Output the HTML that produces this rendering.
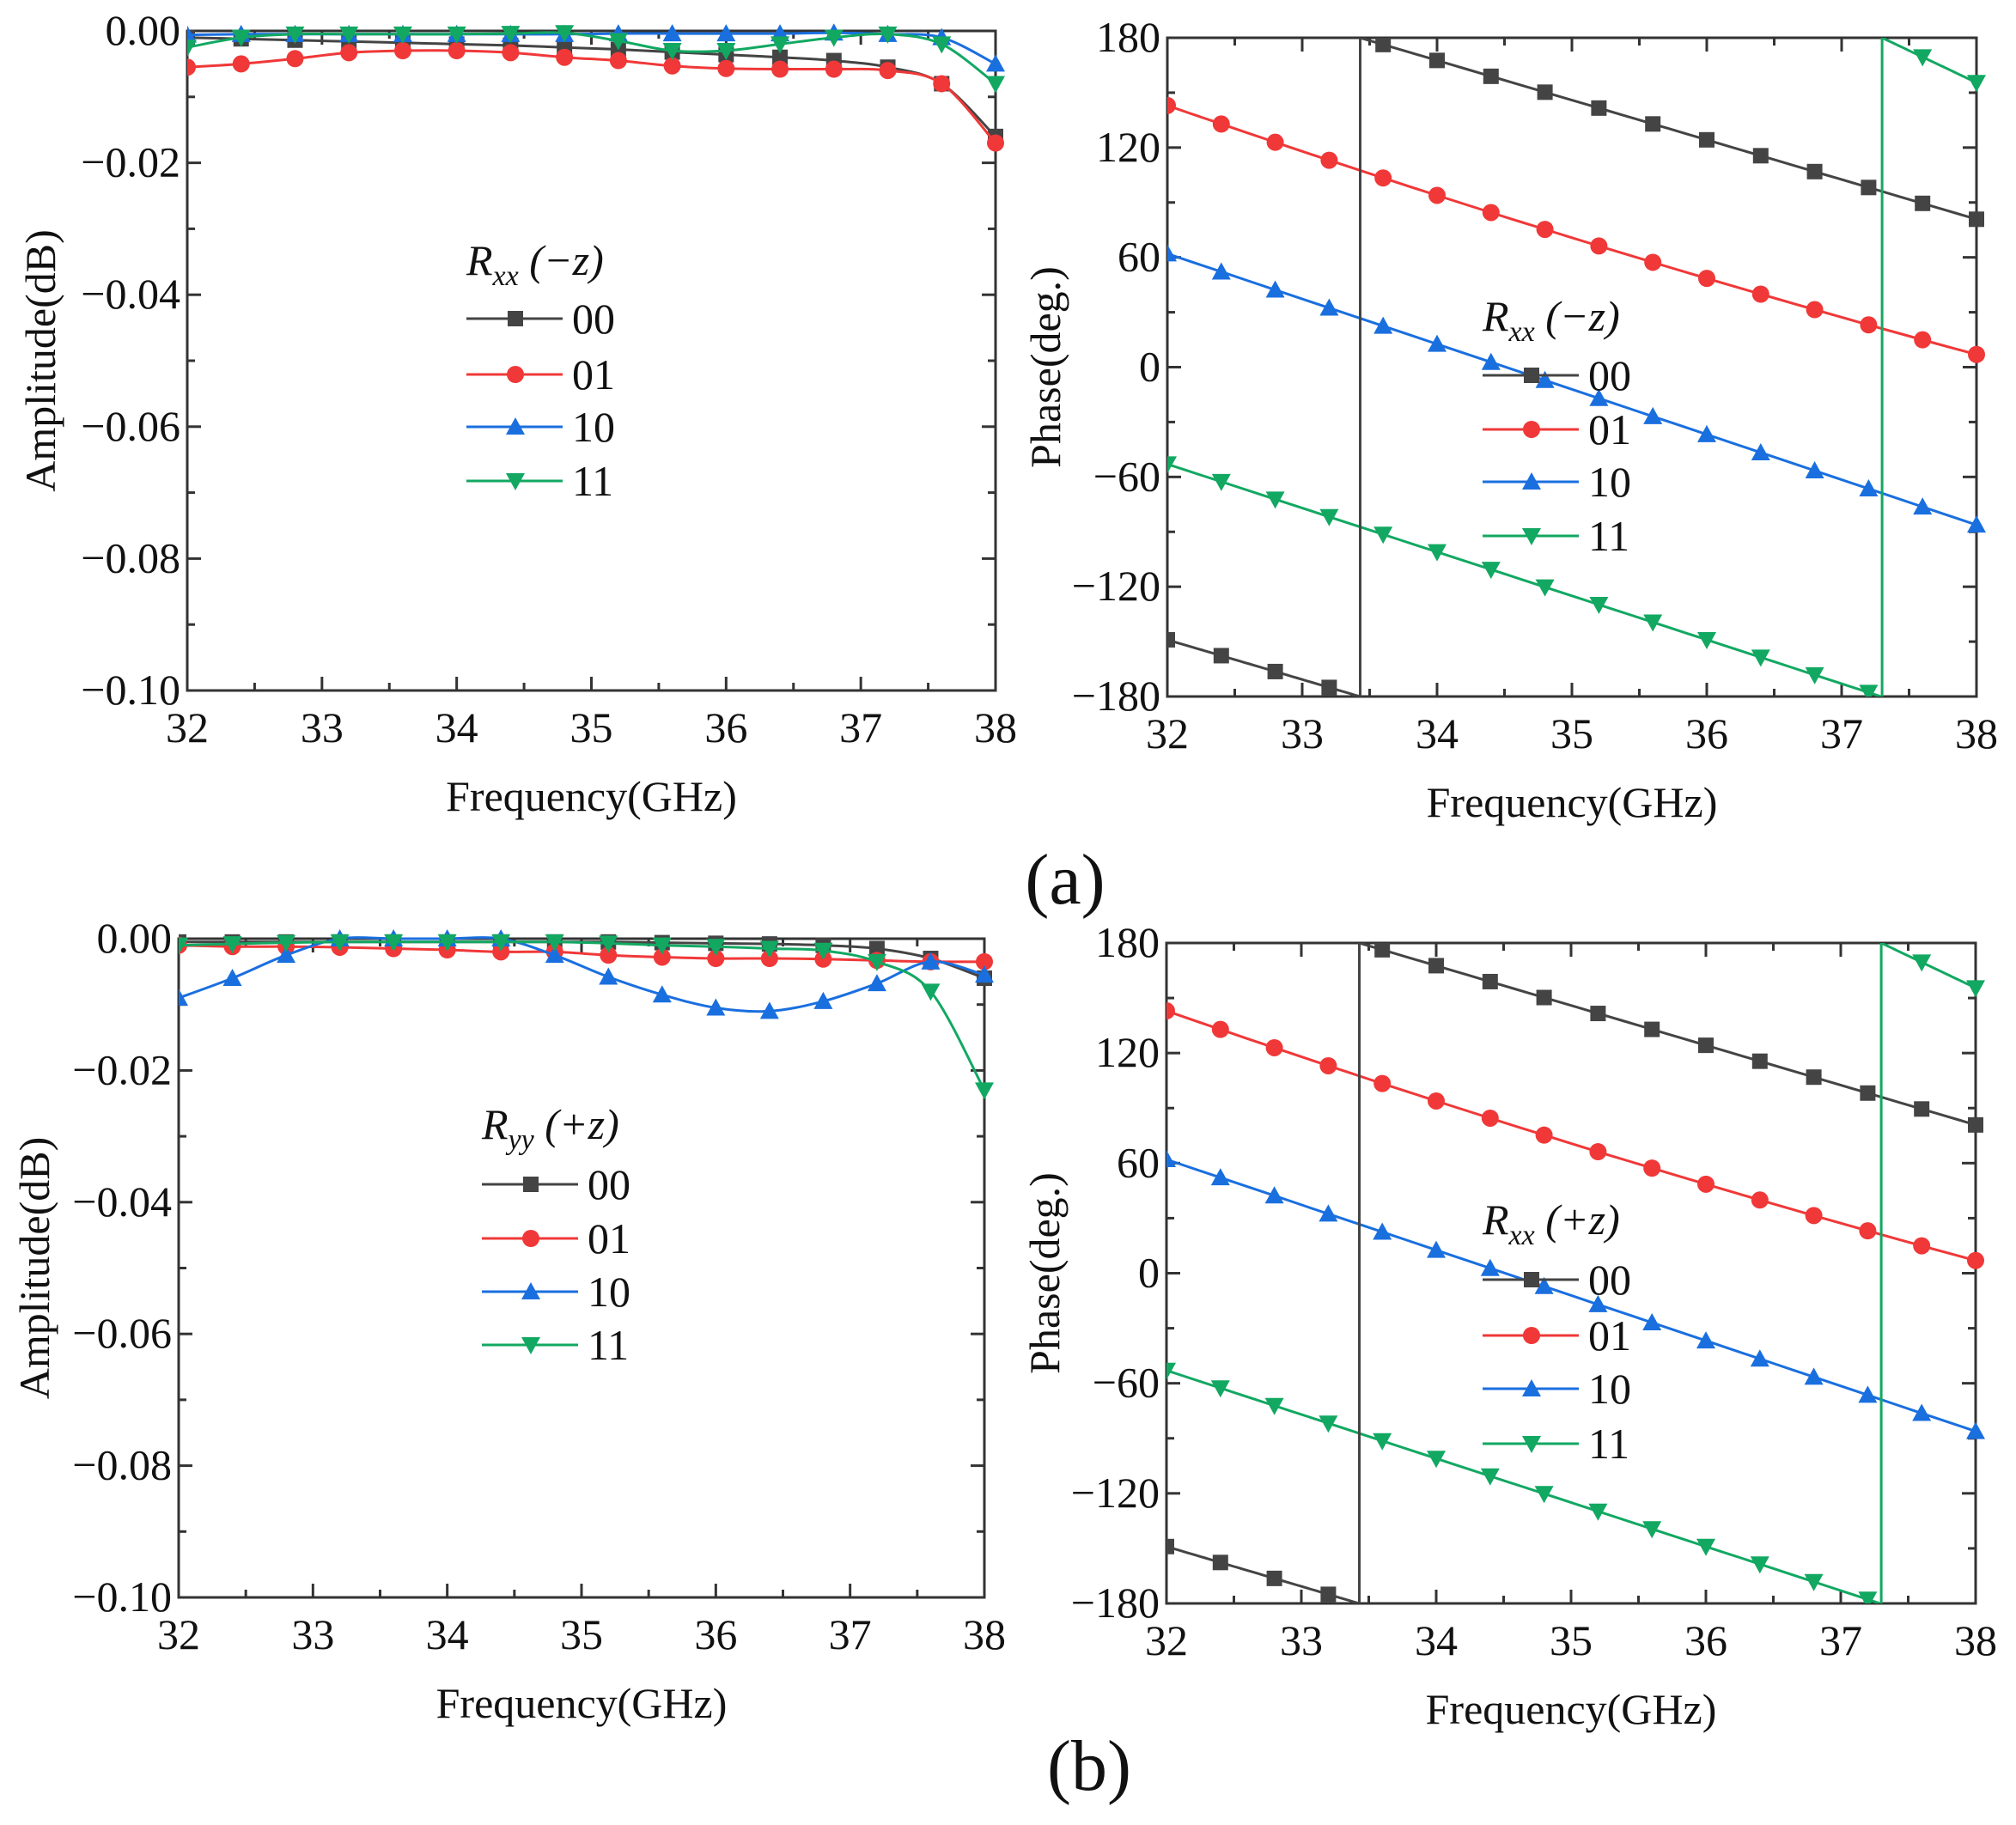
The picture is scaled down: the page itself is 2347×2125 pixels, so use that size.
<!DOCTYPE html>
<html><head><meta charset="utf-8"><style>
html,body{margin:0;padding:0;background:#fff}
text{font-family:'Liberation Serif','DejaVu Serif',serif}
</style></head><body>
<svg id="s" width="2347" height="2120" viewBox="0 0 2347 2120" xmlns="http://www.w3.org/2000/svg" font-family="Liberation Serif, serif" fill="#111"></svg>
<script>
const S=document.getElementById('s');let out='';
const FF=`font-family="Liberation Serif, serif"`;
const C={k:'#444444',r:'#f03838',b:'#1a6fdf',g:'#12a862'};
const X=[];for(let i=0;i<16;i++)X.push(32+0.4*i);
function cr(pts){
 let d='M'+pts[0][0].toFixed(1)+','+pts[0][1].toFixed(1);
 for(let i=0;i<pts.length-1;i++){const p0=pts[i-1]||pts[i],p1=pts[i],p2=pts[i+1],p3=pts[i+2]||p2;
  const c1=[p1[0]+(p2[0]-p0[0])/6,p1[1]+(p2[1]-p0[1])/6],c2=[p2[0]-(p3[0]-p1[0])/6,p2[1]-(p3[1]-p1[1])/6];
  d+=`C${c1[0].toFixed(1)},${c1[1].toFixed(1)} ${c2[0].toFixed(1)},${c2[1].toFixed(1)} ${p2[0].toFixed(1)},${p2[1].toFixed(1)}`;}
 return d;}
function marker(t,x,y,col){const s=9;
 if(t=='k')return `<rect x="${x-s}" y="${y-s}" width="${2*s}" height="${2*s}" fill="${col}"/>`;
 if(t=='r')return `<circle cx="${x}" cy="${y}" r="${s+1}" fill="${col}"/>`;
 if(t=='b')return `<polygon points="${x},${y-s-2} ${x+s+2},${y+s} ${x-s-2},${y+s}" fill="${col}"/>`;
 return `<polygon points="${x},${y+s+2} ${x+s+2},${y-s} ${x-s-2},${y-s}" fill="${col}"/>`;}
function T(x,y,s,anchor,txt,extra){return `<text ${FF} x="${x}" y="${y}" font-size="${s}" text-anchor="${anchor}" ${extra||''}>${txt}</text>`;}
function axes(P){const {x0,x1,y0,y1,ymin,ymax,ystep,ylab,fmt}=P;
 const fx=v=>x0+(v-32)/6*(x1-x0), fy=v=>y1-(v-ymin)/(ymax-ymin)*(y1-y0);
 let o=`<rect x="${x0}" y="${y0}" width="${x1-x0}" height="${y1-y0}" fill="none" stroke="#333" stroke-width="3"/>`;
 for(let v=32;v<=38.01;v+=0.5){const x=fx(v),L=(Math.abs(v-Math.round(v))<.01)?16:9;
  o+=`<line x1="${x}" y1="${y1}" x2="${x}" y2="${y1-L}" stroke="#333" stroke-width="3"/><line x1="${x}" y1="${y0}" x2="${x}" y2="${y0+L}" stroke="#333" stroke-width="3"/>`;
  if(L==16)o+=T(x,y1+60,50,'middle',Math.round(v));}
 const n=Math.round((ymax-ymin)/ystep);
 for(let i=0;i<=2*n;i++){const v=ymin+i*ystep/2,y=fy(v),L=i%2==0?16:9;
  o+=`<line x1="${x0}" y1="${y}" x2="${x0+L}" y2="${y}" stroke="#333" stroke-width="3"/><line x1="${x1}" y1="${y}" x2="${x1-L}" y2="${y}" stroke="#333" stroke-width="3"/>`;
  if(i%2==0)o+=T(x0-8,y+16,50,'end',fmt(v));}
 o+=T((x0+x1)/2,y1+140,50,'middle','Frequency(GHz)');
 o+=`<text ${FF} transform="translate(${P.ylx},${(y0+y1)/2}) rotate(-90)" font-size="50" text-anchor="middle">${ylab}</text>`;
 return {o,fx,fy};}
const famp=v=>Math.abs(v)<1e-9?'0.00':'\u2212'+Math.abs(v).toFixed(2);
const fph=v=>v<0?'\u2212'+Math.abs(Math.round(v)):''+Math.round(v);
function legend(x,yt,sub,dir,rows){let o=`<text ${FF} x="${x}" y="${yt+17}" font-size="50" font-style="italic">R<tspan font-size="34" dy="12">${sub}</tspan><tspan dy="-12"> (${dir}z)</tspan></text>`;
 const nm=['00','01','10','11'],ks=['k','r','b','g'];
 rows.forEach((y,i)=>{o+=`<line x1="${x}" y1="${y}" x2="${x+112}" y2="${y}" stroke="${C[ks[i]]}" stroke-width="3"/>`+marker(ks[i],x+57,y,C[ks[i]])+T(x+123,y+17,50,'start',nm[i]);});
 return o;}
function amp(P,data){const a=axes(P);let o=a.o;
 o+=`<clipPath id="c${P.id}"><rect x="${P.x0}" y="${P.y0-15}" width="${P.x1-P.x0+15}" height="${P.y1-P.y0+15}"/></clipPath><g clip-path="url(#c${P.id})">`;
 for(const k of ['k','r','b','g']){const pts=X.map((x,i)=>[a.fx(x),a.fy(data[k][i])]);
  o+=`<path d="${cr(pts)}" fill="none" stroke="${C[k]}" stroke-width="3"/>`;pts.forEach(p=>o+=marker(k,p[0],p[1],C[k]));}
 return o+'</g>';}
function phase(P){const a=axes(P);let o=a.o;
 o+=`<clipPath id="c${P.id}"><rect x="${P.x0}" y="${P.y0}" width="${P.x1-P.x0+15}" height="${P.y1-P.y0}"/></clipPath><g clip-path="url(#c${P.id})">`;
 const fk=x=>x<33.43?-149-21.7*(x-32):180-21.7*(x-33.43);
 const fr=x=>143-25.5*(x-32)+0.47*(x-32)*(x-32), fb=x=>62-24.7*(x-32), fg=x=>x<37.3?-53-24*(x-32):180-35*(x-37.3);
 const seg=(k,f,xs,xe)=>{let d='';for(let i=0;i<=40;i++){const x=xs+(xe-xs)*i/40;d+=(i?'L':'M')+a.fx(x).toFixed(1)+','+a.fy(f(x)).toFixed(1);}o+=`<path d="${d}" fill="none" stroke="${C[k]}" stroke-width="3"/>`;};
 seg('k',fk,32,33.429);seg('k',fk,33.43,38);seg('r',fr,32,38);seg('b',fb,32,38);seg('g',fg,32,37.299);seg('g',fg,37.3,38);
 o+=`<line x1="${a.fx(33.43)}" y1="${P.y0}" x2="${a.fx(33.43)}" y2="${P.y1}" stroke="${C.k}" stroke-width="3"/>`;
 o+=`<line x1="${a.fx(37.3)}" y1="${P.y0}" x2="${a.fx(37.3)}" y2="${P.y1}" stroke="${C.g}" stroke-width="3"/>`;
 for(const [k,f] of [['k',fk],['r',fr],['b',fb],['g',fg]])X.forEach(x=>o+=marker(k,a.fx(x),a.fy(f(x)),C[k]));
 return o+'</g>';}
const A={k:[-.001,-.0012,-.0014,-.0016,-.0018,-.002,-.0022,-.0025,-.0028,-.0032,-.0036,-.004,-.0045,-.0055,-.008,-.016],
 r:[-.0055,-.005,-.0042,-.0033,-.003,-.003,-.0033,-.004,-.0045,-.0053,-.0057,-.0058,-.0058,-.006,-.008,-.017],
 b:[-.0006,-.0005,-.0005,-.0005,-.0005,-.0005,-.0005,-.0005,-.0004,-.0004,-.0004,-.0004,-.0003,-.0005,-.001,-.005],
 g:[-.0025,-.001,-.0005,-.0005,-.0005,-.0005,-.0004,-.0003,-.0015,-.003,-.003,-.002,-.001,-.0005,-.002,-.008]};
const B={k:[-.0005,-.0005,-.0005,-.0005,-.0005,-.0005,-.0005,-.0005,-.0005,-.0006,-.0007,-.0008,-.001,-.0015,-.003,-.006],
 r:[-.001,-.0012,-.0012,-.0013,-.0015,-.0017,-.002,-.002,-.0025,-.0028,-.003,-.003,-.0031,-.0033,-.0035,-.0035],
 b:[-.009,-.006,-.0025,0,0,0,0,-.0025,-.0058,-.0085,-.0105,-.011,-.0095,-.0068,-.0035,-.0055],
 g:[-.001,-.0008,-.0006,-.0005,-.0005,-.0005,-.0005,-.0005,-.0007,-.001,-.0012,-.0015,-.0018,-.0035,-.008,-.023]};
out+=amp({id:1,x0:218,x1:1159,y0:36,y1:804,ymin:-.1,ymax:0,ystep:.02,ylab:'Amplitude(dB)',fmt:famp,ylx:64},A);
out+=legend(543,303,'xx','\u2212',[371,436,497,560]);
out+=phase({id:2,x0:1359,x1:2301,y0:44,y1:811,ymin:-180,ymax:180,ystep:60,ylab:'Phase(deg.)',fmt:fph,ylx:1234});
out+=legend(1726,368,'xx','\u2212',[437,500,561,624]);
out+=amp({id:3,x0:208,x1:1146,y0:1093,y1:1860,ymin:-.1,ymax:0,ystep:.02,ylab:'Amplitude(dB)',fmt:famp,ylx:57},B);
out+=legend(561,1309,'yy','+',[1379,1442,1504,1566]);
out+=phase({id:4,x0:1358,x1:2300,y0:1098,y1:1867,ymin:-180,ymax:180,ystep:60,ylab:'Phase(deg.)',fmt:fph,ylx:1233});
out+=legend(1726,1420,'xx','+',[1490,1555,1617,1681]);
out+=T(1240,1052,84,'middle','(a)')+T(1268,2084,84,'middle','(b)');
S.innerHTML=out;
</script>
</body></html>
